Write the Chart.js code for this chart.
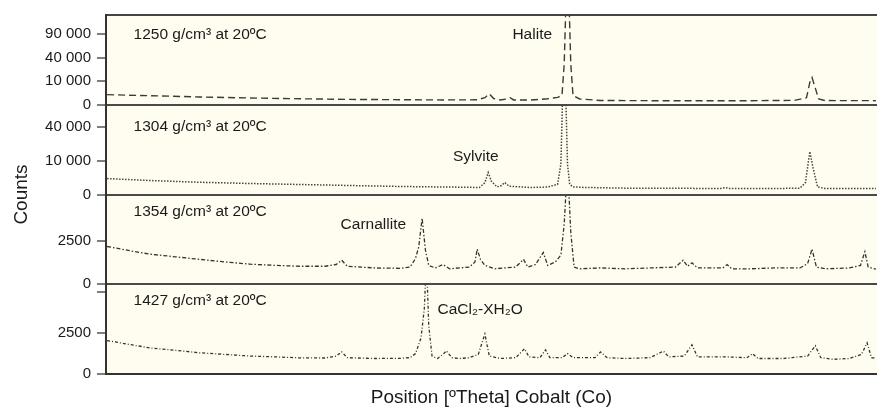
<!DOCTYPE html>
<html>
<head>
<meta charset="utf-8">
<script src="https://cdn.jsdelivr.net/npm/chart.js@4"></script>
<style>
    html, body { margin: 0; padding: 0; background: #ffffff; }
    #wrap { width: 877px; height: 412px; position: relative; }
</style>
</head>
<body>
<div id="wrap"><canvas id="xrdChart"></canvas></div>
<script>
// Position in degrees (axis has no tick labels) and counts for each density
const theta1 = [10.1, 14.0, 18.5, 23.1, 27.6, 32.2, 36.7, 40.6, 43.7, 44.4, 44.8, 45.2, 45.8, 46.4, 46.7, 47.0, 48.5, 50.1, 51.0, 51.4, 51.6, 51.8, 52.0, 52.2, 52.4, 53.0, 54.9, 59.4, 63.9, 68.5, 72.5, 73.6, 73.9, 74.1, 74.4, 74.7, 75.3, 79.9];
const counts1 = [1840, 1500, 1100, 830, 650, 520, 460, 420, 440, 900, 2200, 700, 420, 600, 900, 420, 400, 650, 1000, 1500, 30000, 250000, 250000, 30000, 1500, 600, 330, 300, 300, 300, 350, 900, 9000, 13400, 5000, 600, 320, 300];

const theta2 = [10.1, 14.0, 18.5, 23.1, 27.6, 32.2, 36.7, 41.2, 43.9, 44.4, 44.7, 45.0, 45.5, 45.9, 46.2, 46.6, 48.5, 50.1, 51.0, 51.3, 51.5, 51.7, 51.9, 52.1, 52.4, 53.5, 57.1, 61.7, 65.8, 66.2, 66.6, 70.7, 73.0, 73.5, 73.9, 74.2, 74.6, 75.3, 79.9];
const counts2 = [2200, 1700, 1300, 1050, 870, 700, 560, 480, 430, 1200, 4200, 1500, 500, 700, 1250, 600, 430, 480, 900, 8000, 120000, 120000, 8000, 900, 500, 430, 350, 330, 320, 420, 320, 310, 350, 1200, 16000, 6000, 500, 320, 300];

const theta3 = [10.1, 12.2, 14.0, 16.3, 18.5, 20.8, 23.1, 25.3, 27.6, 29.9, 30.9, 31.4, 31.9, 34.4, 36.7, 37.6, 38.1, 38.4, 38.7, 39.0, 39.3, 39.9, 40.6, 41.2, 42.1, 43.0, 43.5, 43.7, 44.0, 44.4, 45.3, 46.2, 47.2, 47.9, 48.3, 49.0, 49.7, 50.1, 50.8, 51.3, 51.6, 51.9, 52.2, 52.5, 53.0, 54.9, 57.1, 59.4, 61.7, 62.4, 62.8, 63.2, 63.7, 66.0, 66.4, 66.8, 68.5, 70.7, 73.0, 73.7, 74.1, 74.5, 75.3, 77.5, 78.5, 78.9, 79.2, 79.9];
const counts3 = [2200, 1950, 1750, 1600, 1450, 1300, 1170, 1100, 1050, 1050, 1150, 1400, 1050, 950, 930, 1000, 1500, 2200, 3850, 2000, 1100, 950, 1150, 900, 950, 1000, 1300, 2050, 1450, 1100, 900, 950, 1000, 1450, 1000, 1150, 1850, 1100, 1300, 1700, 3500, 7000, 3000, 1000, 900, 950, 900, 950, 1000, 1400, 1050, 1250, 950, 950, 1150, 900, 900, 950, 950, 1200, 2050, 1000, 900, 950, 1100, 1900, 1000, 880];

const theta4 = [10.1, 12.2, 14.0, 16.3, 18.5, 20.8, 23.1, 25.3, 27.6, 29.9, 30.9, 31.4, 31.9, 34.4, 36.7, 37.6, 38.1, 38.6, 38.9, 39.1, 39.3, 39.6, 40.1, 40.6, 40.9, 41.4, 42.1, 43.0, 43.8, 44.4, 44.8, 45.8, 47.2, 48.0, 48.4, 49.4, 49.9, 50.3, 51.4, 51.9, 52.4, 54.4, 54.9, 55.5, 57.1, 59.4, 60.6, 61.1, 62.5, 63.2, 63.7, 66.2, 68.2, 68.7, 69.2, 71.5, 73.7, 74.4, 74.9, 76.0, 77.5, 78.6, 79.1, 79.5, 79.9];
const counts4 = [2050, 1800, 1600, 1450, 1300, 1200, 1100, 1050, 990, 980, 1100, 1360, 1000, 950, 960, 1000, 1250, 2200, 4000, 7000, 3000, 1100, 950, 1200, 1420, 1000, 950, 1000, 1200, 2450, 1100, 950, 1000, 1550, 1050, 1000, 1480, 1000, 1000, 1250, 1000, 1000, 1350, 1000, 950, 1000, 1400, 1050, 1100, 1790, 1050, 1050, 1000, 1250, 950, 950, 1100, 1730, 1000, 900, 950, 1200, 1910, 1000, 950];

// y ticks per panel
const ticks1 = [0, 10000, 40000, 90000];
const tickLabels1 = ['0', '10 000', '40 000', '90 000'];
const ticks2 = [0, 10000, 40000];
const tickLabels2 = ['0', '10 000', '40 000'];
const ticks3 = [0, 2500];
const tickLabels3 = ['0', '2500'];
const ticks4 = [0, 2500, 5000];
const tickLabels4 = ['0', '2500', ''];

// text inside the panels
const noteText = ['1250 g/cm³ at 20ºC', '1304 g/cm³ at 20ºC', '1354 g/cm³ at 20ºC', '1427 g/cm³ at 20ºC', 'Halite', 'Sylvite', 'Carnallite', 'CaCl₂-XH₂O'];
const noteTheta = [12.5, 12.5, 12.5, 12.5, 46.9, 41.5, 31.3, 40.1];
const noteCounts = [90000, 40000, 4250, 4500, 88000, 12500, 3490, 3950];
const noteAxis = ['y1', 'y2', 'y3', 'y4', 'y1', 'y2', 'y3', 'y4'];

document.addEventListener('DOMContentLoaded', function () {
    Chart.defaults.font.family = '"Liberation Sans", Arial, sans-serif';
    Chart.defaults.color = '#1a1a1a';

    // square-root count axis, like the two upper panels
    class SqrtScale extends Chart.LinearScale {
        getPixelForValue(value) {
            const lo = Math.sqrt(Math.max(this.min, 0));
            const hi = Math.sqrt(this.max);
            return this.getPixelForDecimal((Math.sqrt(Math.max(value, 0)) - lo) / (hi - lo));
        }
        getValueForPixel(pixel) {
            const lo = Math.sqrt(Math.max(this.min, 0));
            const hi = Math.sqrt(this.max);
            const s = lo + this.getDecimalForPixel(pixel) * (hi - lo);
            return s * s;
        }
    }
    SqrtScale.id = 'sqrt';
    SqrtScale.defaults = {};
    Chart.register(SqrtScale);

    const panelAxis = (type, ticks, labels, max, weight) => ({
        type: type,
        position: 'left',
        stack: 'panels',
        stackWeight: 1,
        weight: weight,
        min: 0,
        max: max,
        afterBuildTicks: (scale) => { scale.ticks = ticks.map(v => ({ value: v })); },
        afterFit: (scale) => { scale.width = 64; },
        ticks: {
            autoSkip: false,
            padding: 6,
            color: '#1a1a1a',
            font: { size: 15 },
            callback: (v, i) => labels[i]
        },
        grid: {
            color: (c) => (c.tick && c.tick.value === 0) ? '#4a4a4a' : 'rgba(0,0,0,0)',
            lineWidth: 2,
            tickLength: 9,
            tickColor: '#555555',
            tickWidth: 1.5
        },
        border: { color: '#333333', width: 2 }
    });

    const points = (xs, ys) => xs.map((x, i) => ({ x: x, y: ys[i] }));

    const panelBackground = {
        id: 'panelBackground',
        beforeDraw(chart) {
            const { ctx, chartArea } = chart;
            ctx.save();
            ctx.fillStyle = '#fffdf0';
            ctx.fillRect(chartArea.left, chartArea.top, chartArea.width, chartArea.height);
            ctx.restore();
        },
        afterDatasetsDraw(chart) {
            const ctx = chart.ctx;
            const xScale = chart.scales.x;
            ctx.save();
            ctx.font = '15.5px "Liberation Sans", Arial, sans-serif';
            ctx.fillStyle = '#1a1a1a';
            ctx.textBaseline = 'middle';
            noteText.forEach((t, i) => {
                const yScale = chart.scales[noteAxis[i]];
                ctx.fillText(t, xScale.getPixelForValue(noteTheta[i]), yScale.getPixelForValue(noteCounts[i]));
            });
            ctx.restore();
        }
    };

    const xrdCtx = document.getElementById('xrdChart').getContext('2d');

    new Chart(xrdCtx, {
        type: 'line',
        data: {
            datasets: [
                { data: points(theta1, counts1), yAxisID: 'y1', borderColor: '#3a3a3a', borderWidth: 1.4, borderDash: [7, 4] },
                { data: points(theta2, counts2), yAxisID: 'y2', borderColor: '#444444', borderWidth: 1.5, borderDash: [1.5, 1.5] },
                { data: points(theta3, counts3), yAxisID: 'y3', borderColor: '#333333', borderWidth: 1.3, borderDash: [4, 2, 1.5, 2] },
                { data: points(theta4, counts4), yAxisID: 'y4', borderColor: '#333333', borderWidth: 1.3, borderDash: [3, 2, 1, 2] }
            ]
        },
        options: {
            responsive: true,
            maintainAspectRatio: false,
            animation: false,
            layout: { padding: 0 },
            elements: { point: { radius: 0 }, line: { tension: 0, fill: false } },
            plugins: { legend: { display: false }, tooltip: { enabled: false } },
            scales: {
                x: {
                    type: 'linear',
                    position: 'bottom',
                    min: 10,
                    max: 80,
                    ticks: { display: false },
                    grid: { display: false },
                    border: { color: '#333333', width: 2 },
                    afterFit: (scale) => { scale.height = 38; },
                    title: {
                        display: true,
                        text: 'Position [ºTheta] Cobalt (Co)',
                        font: { size: 19 },
                        color: '#1a1a1a',
                        padding: { top: 0, bottom: 3 }
                    }
                },
                xTop: {
                    type: 'linear',
                    position: 'top',
                    min: 10,
                    max: 80,
                    ticks: { display: false },
                    grid: { display: false },
                    border: { color: '#444444', width: 2 },
                    afterFit: (scale) => { scale.height = 14; }
                },
                yTitle: {
                    type: 'linear',
                    position: 'left',
                    weight: 10,
                    ticks: { display: false },
                    grid: { display: false },
                    border: { display: false },
                    afterFit: (scale) => { scale.width = 42; },
                    title: {
                        display: true,
                        text: 'Counts',
                        font: { size: 19 },
                        color: '#1a1a1a',
                        padding: { top: 10, bottom: 0 }
                    }
                },
                y1: panelAxis('sqrt', ticks1, tickLabels1, 146000, 4),
                y2: panelAxis('sqrt', ticks2, tickLabels2, 70000, 3),
                y3: panelAxis('linear', ticks3, tickLabels3, 5230, 2),
                y4: panelAxis('linear', ticks4, tickLabels4, 5500, 1)
            }
        },
        plugins: [panelBackground]
    });
});
</script>
</body>
</html>
